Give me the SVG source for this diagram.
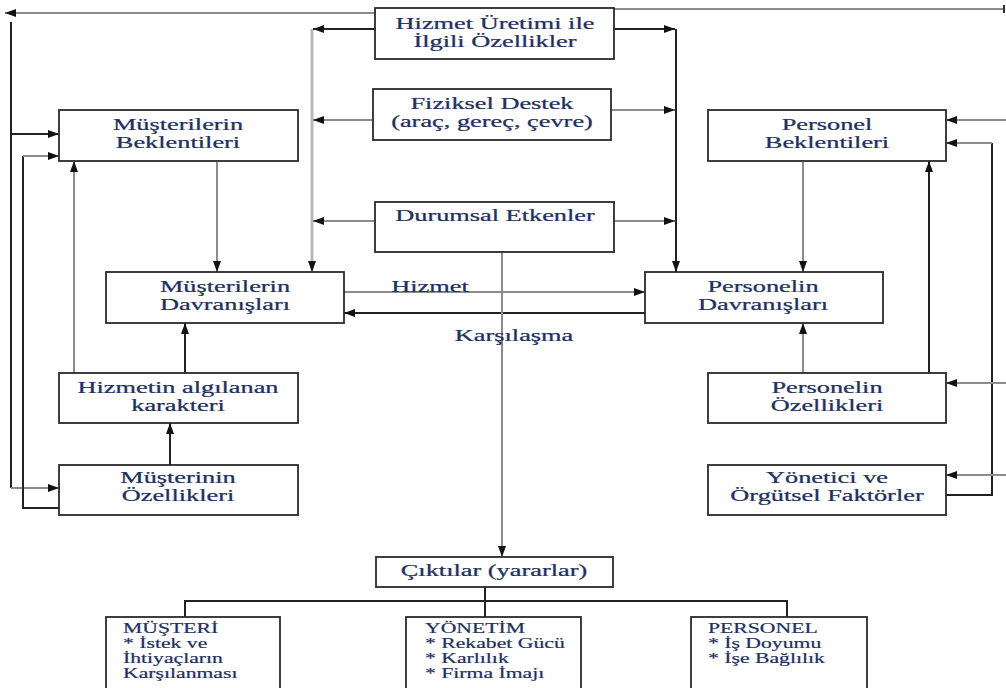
<svg xmlns="http://www.w3.org/2000/svg" width="1006" height="688" viewBox="0 0 1006 688">
<style>
.box{fill:#fff;stroke:#2a2a2a;stroke-width:1.8}
.t{font-family:"Liberation Serif","Times New Roman",serif;font-size:17px;fill:#22305e;text-anchor:middle;stroke:#22305e;stroke-width:0.25}
.s{font-family:"Liberation Serif","Times New Roman",serif;font-size:14px;fill:#22305e;stroke:#22305e;stroke-width:0.2}
.k{fill:none;stroke:#222;stroke-width:2}
.g{fill:none;stroke:#8c8c8c;stroke-width:2}
.lg{fill:none;stroke:#b8b8b8;stroke-width:3}
</style>
<defs>
<marker id="ah" markerWidth="11" markerHeight="8" refX="11" refY="4" orient="auto" markerUnits="userSpaceOnUse">
<path d="M0,0 L11,4 L0,8 Z" fill="#111"/>
</marker>
</defs>
<rect width="1006" height="688" fill="#fff"/>

<g id="connectors">
<path class="g" d="M1004,9 L614,9"/>
<line x1="1004" y1="5" x2="1004" y2="13" stroke="#333" stroke-width="2"/>
<path class="g" d="M375,13 L5,13" marker-end="url(#ah)"/>
<path class="k" d="M11,22 L11,488"/>
<path class="k" d="M11,134 L59,134" marker-end="url(#ah)"/>
<path class="g" d="M11,488 L59,488" marker-end="url(#ah)"/>
<path class="k" d="M60,508 L23,508 L23,156"/>
<path class="g" d="M23,156 L59,156" marker-end="url(#ah)"/>
<path class="g" d="M74,373 L74,161" marker-end="url(#ah)"/>
<path class="g" d="M217,162 L217,272" marker-end="url(#ah)"/>
<path class="k" d="M185,373 L185,323" marker-end="url(#ah)"/>
<path class="k" d="M170,465 L170,423" marker-end="url(#ah)"/>
<path class="lg" d="M312,29 L312,272" marker-end="url(#ah)"/>
<path class="k" d="M376,29 L313,29" marker-end="url(#ah)"/>
<path class="g" d="M373,120 L313,120" marker-end="url(#ah)"/>
<path class="g" d="M376,221 L313,221" marker-end="url(#ah)"/>
<path class="k" d="M676,29 L676,272" marker-end="url(#ah)"/>
<path class="k" d="M614,29 L675,29" marker-end="url(#ah)"/>
<path class="g" d="M611,110 L675,110" marker-end="url(#ah)"/>
<path class="g" d="M614,221 L675,221" marker-end="url(#ah)"/>
<path class="g" d="M344,292 L645,292" marker-end="url(#ah)"/>
<path class="k" d="M645,313 L344,313" marker-end="url(#ah)"/>
<path class="g" d="M502,252 L502,557" marker-end="url(#ah)"/>
<path class="g" d="M803,162 L803,272" marker-end="url(#ah)"/>
<path class="g" d="M803,373 L803,323" marker-end="url(#ah)"/>
<path class="k" d="M929,373 L929,161" marker-end="url(#ah)"/>
<path class="k" d="M946,495 L992,495 L992,143"/>
<path class="g" d="M992,143 L946,143" marker-end="url(#ah)"/>
<path class="g" d="M1006,120 L946,120" marker-end="url(#ah)"/>
<path class="g" d="M1006,383 L946,383" marker-end="url(#ah)"/>
<path class="g" d="M1006,475 L946,475" marker-end="url(#ah)"/>
<path class="k" d="M485,587 L485,617 M185,617 L185,601 L787,601 L787,617"/>
</g>

<g id="hizmet-uretimi">
<rect class="box" x="375" y="8" width="239" height="51"/>
<text class="t" transform="translate(495,29) scale(1.55,1)">Hizmet Üretimi ile</text>
<text class="t" transform="translate(495,47) scale(1.55,1)">İlgili Özellikler</text>
</g>
<g id="fiziksel-destek">
<rect class="box" x="373" y="89" width="238" height="51"/>
<text class="t" transform="translate(492,109) scale(1.55,1)">Fiziksel Destek</text>
<text class="t" transform="translate(492,127) scale(1.55,1)">(araç, gereç, çevre)</text>
</g>
<g id="durumsal-etkenler">
<rect class="box" x="375" y="202" width="239" height="50"/>
<text class="t" transform="translate(495,221) scale(1.55,1)">Durumsal Etkenler</text>
</g>
<g id="musterilerin-beklentileri">
<rect class="box" x="59" y="110" width="239" height="51"/>
<text class="t" transform="translate(178,130) scale(1.55,1)">Müşterilerin</text>
<text class="t" transform="translate(178,148) scale(1.55,1)">Beklentileri</text>
</g>
<g id="personel-beklentileri">
<rect class="box" x="708" y="110" width="238" height="51"/>
<text class="t" transform="translate(827,130) scale(1.55,1)">Personel</text>
<text class="t" transform="translate(827,148) scale(1.55,1)">Beklentileri</text>
</g>
<g id="musterilerin-davranislari">
<rect class="box" x="106" y="272" width="238" height="51"/>
<text class="t" transform="translate(225,292) scale(1.55,1)">Müşterilerin</text>
<text class="t" transform="translate(225,310) scale(1.55,1)">Davranışları</text>
</g>
<g id="personelin-davranislari">
<rect class="box" x="645" y="272" width="238" height="51"/>
<text class="t" transform="translate(763,292) scale(1.55,1)">Personelin</text>
<text class="t" transform="translate(763,310) scale(1.55,1)">Davranışları</text>
</g>
<g id="hizmetin-algilanan">
<rect class="box" x="59" y="373" width="239" height="50"/>
<text class="t" transform="translate(178,393) scale(1.55,1)">Hizmetin algılanan</text>
<text class="t" transform="translate(178,411) scale(1.55,1)">karakteri</text>
</g>
<g id="musterinin-ozellikleri">
<rect class="box" x="59" y="465" width="239" height="50"/>
<text class="t" transform="translate(178,483) scale(1.55,1)">Müşterinin</text>
<text class="t" transform="translate(178,501) scale(1.55,1)">Özellikleri</text>
</g>
<g id="personelin-ozellikleri">
<rect class="box" x="708" y="373" width="238" height="50"/>
<text class="t" transform="translate(827,393) scale(1.55,1)">Personelin</text>
<text class="t" transform="translate(827,411) scale(1.55,1)">Özellikleri</text>
</g>
<g id="yonetici">
<rect class="box" x="708" y="465" width="238" height="50"/>
<text class="t" transform="translate(827,483) scale(1.55,1)">Yönetici ve</text>
<text class="t" transform="translate(827,501) scale(1.55,1)">Örgütsel Faktörler</text>
</g>
<g id="labels">
<text class="t" transform="translate(430,292) scale(1.55,1)">Hizmet</text>
<text class="t" transform="translate(514,341) scale(1.55,1)">Karşılaşma</text>
</g>
<g id="ciktilar">
<rect class="box" x="376" y="557" width="237" height="30"/>
<text class="t" transform="translate(494,576) scale(1.55,1)">Çıktılar (yararlar)</text>
</g>
<g id="musteri">
<rect class="box" x="106" y="617" width="174" height="80"/>
<text class="s" transform="translate(123,633) scale(1.55,1)">MÜŞTERİ</text>
<text class="s" transform="translate(123,648) scale(1.55,1)">* İstek ve</text>
<text class="s" transform="translate(123,663) scale(1.55,1)">İhtiyaçların</text>
<text class="s" transform="translate(123,678) scale(1.55,1)">Karşılanması</text>
</g>
<g id="yonetim">
<rect class="box" x="406" y="617" width="175" height="80"/>
<text class="s" transform="translate(425,633) scale(1.55,1)">YÖNETİM</text>
<text class="s" transform="translate(425,648) scale(1.55,1)">* Rekabet Gücü</text>
<text class="s" transform="translate(425,663) scale(1.55,1)">* Karlılık</text>
<text class="s" transform="translate(425,678) scale(1.55,1)">* Firma İmajı</text>
</g>
<g id="personel">
<rect class="box" x="691" y="617" width="176" height="80"/>
<text class="s" transform="translate(708,633) scale(1.55,1)">PERSONEL</text>
<text class="s" transform="translate(708,648) scale(1.55,1)">* İş Doyumu</text>
<text class="s" transform="translate(708,663) scale(1.55,1)">* İşe Bağlılık</text>
</g>
</svg>
